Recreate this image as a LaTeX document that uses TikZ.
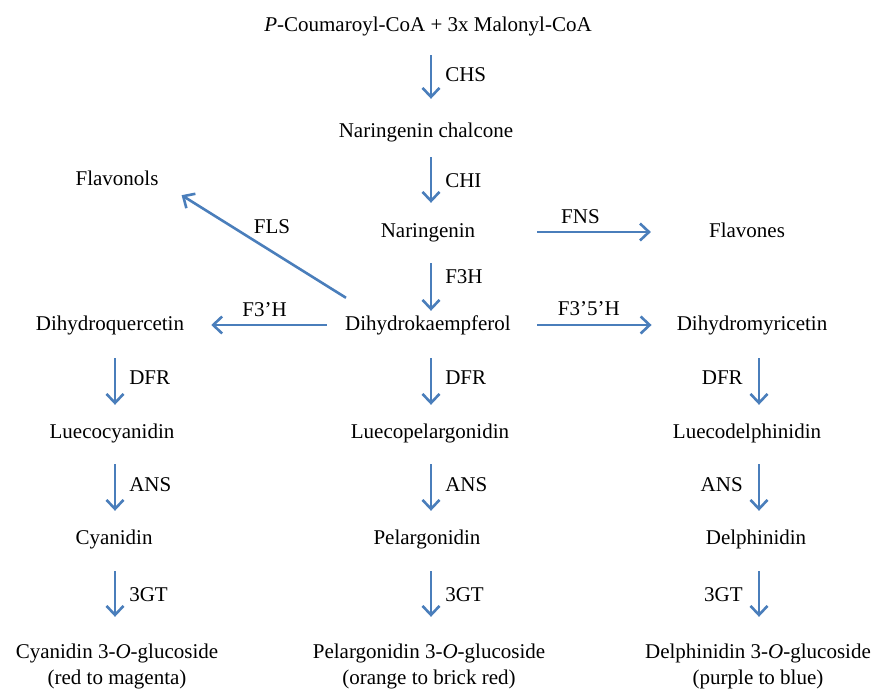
\documentclass[tikz,border=0pt]{standalone}
\usepackage{fontspec}
\setmainfont{Liberation Serif}
\usetikzlibrary{arrows.meta}
\definecolor{flowblue}{HTML}{4A7EBB}
\tikzset{
  txt/.style={inner sep=0pt, text height=14pt, text depth=4pt, font=\fontsize{21}{24}\selectfont},
  lbl/.style={inner sep=0pt, text height=14pt, text depth=4pt, font=\fontsize{21}{24}\selectfont, text=black},
  flow/.style={draw=flowblue, line width=2.6pt, -{Straight Barb[length=9pt,width=17pt]}},
  sh/.style 2 args={shorten <=#1, shorten >=#2}
}
\begin{document}
\begin{tikzpicture}[x=1pt,y=-1pt]
\useasboundingbox (0,0) rectangle (871,691);
% column coordinates for vertical arrows
\coordinate (colL) at (115,0);
\coordinate (colM) at (431,0);
\coordinate (colR) at (759,0);
% nodes
\node[txt] (top) at (428,26) {\textit{P}-Coumaroyl-CoA + 3x Malonyl-CoA};
\node[txt] (chal) at (426,132) {Naringenin chalcone};
\node[txt] (nar) at (428,232) {Naringenin};
\node[txt] (flavones) at (747,232) {Flavones};
\node[txt] (flavonols) at (117,180) {Flavonols};
\node[txt] (dk) at (428,325) {Dihydrokaempferol};
\node[txt] (dq) at (110,325) {Dihydroquercetin};
\node[txt] (dm) at (752,325) {Dihydromyricetin};
\node[txt] (lc) at (112,433) {Luecocyanidin};
\node[txt] (lp) at (430,433) {Luecopelargonidin};
\node[txt] (ld) at (747,433) {Luecodelphinidin};
\node[txt] (cy) at (114,539) {Cyanidin};
\node[txt] (pe) at (427,539) {Pelargonidin};
\node[txt] (de) at (756,539) {Delphinidin};
\node[txt] (cg) at (117,653) {Cyanidin 3-\textit{O}-glucoside};
\node[txt] (cgc) at (117,679) {(red to magenta)};
\node[txt] (pg) at (429,653) {Pelargonidin 3-\textit{O}-glucoside};
\node[txt] (pgc) at (429,679) {(orange to brick red)};
\node[txt] (dg) at (758,653) {Delphinidin 3-\textit{O}-glucoside};
\node[txt] (dgc) at (758,679) {(purple to blue)};
% central vertical arrows
\draw[flow, sh={20pt}{24pt}] (top.south -| colM) -- (chal.north -| colM)
  node[lbl, pos=0.47, right=13pt] {CHS};
\draw[flow, sh={16pt}{20pt}] (chal.south -| colM) -- (nar.north -| colM)
  node[lbl, midway, right=13pt] {CHI};
\draw[flow, sh={22pt}{5pt}] (nar.south -| colM) -- (dk.north -| colM)
  node[lbl, pos=0.5, right=13pt] {F3H};
% horizontal arrows
\draw[flow, sh={62pt}{58pt}] (nar.east) -- (flavones.west)
  node[lbl, pos=0.45, above=3pt] {FNS};
\draw[flow, sh={18pt}{27pt}] (dk.west) -- (dq.east)
  node[lbl, midway, above=3pt] {F3’H};
\draw[flow, sh={26pt}{25pt}] (dk.east) -- (dm.west)
  node[lbl, pos=0.47, above=4pt] {F3’5’H};
% FLS diagonal
\draw[flow] ([shift={(1,-18)}]dk.north west) -- ([shift={(23,6)}]flavonols.south east)
  node[lbl, pos=0.45, above=13pt] {FLS};
% left column
\draw[flow, sh={24pt}{19pt}] (dq.south -| colL) -- (lc.north -| colL)
  node[lbl, midway, right=13pt] {DFR};
\draw[flow, sh={22pt}{19pt}] (lc.south -| colL) -- (cy.north -| colL)
  node[lbl, midway, right=13pt] {ANS};
\draw[flow, sh={23pt}{27pt}] (cy.south -| colL) -- (cg.north -| colL)
  node[lbl, midway, right=13pt] {3GT};
% middle column
\draw[flow, sh={24pt}{19pt}] (dk.south -| colM) -- (lp.north -| colM)
  node[lbl, midway, right=13pt] {DFR};
\draw[flow, sh={22pt}{19pt}] (lp.south -| colM) -- (pe.north -| colM)
  node[lbl, midway, right=13pt] {ANS};
\draw[flow, sh={23pt}{27pt}] (pe.south -| colM) -- (pg.north -| colM)
  node[lbl, midway, right=13pt] {3GT};
% right column
\draw[flow, sh={24pt}{19pt}] (dm.south -| colR) -- (ld.north -| colR)
  node[lbl, midway, left=15pt] {DFR};
\draw[flow, sh={22pt}{19pt}] (ld.south -| colR) -- (de.north -| colR)
  node[lbl, midway, left=15pt] {ANS};
\draw[flow, sh={23pt}{27pt}] (de.south -| colR) -- (dg.north -| colR)
  node[lbl, midway, left=15pt] {3GT};
\end{tikzpicture}
\end{document}
